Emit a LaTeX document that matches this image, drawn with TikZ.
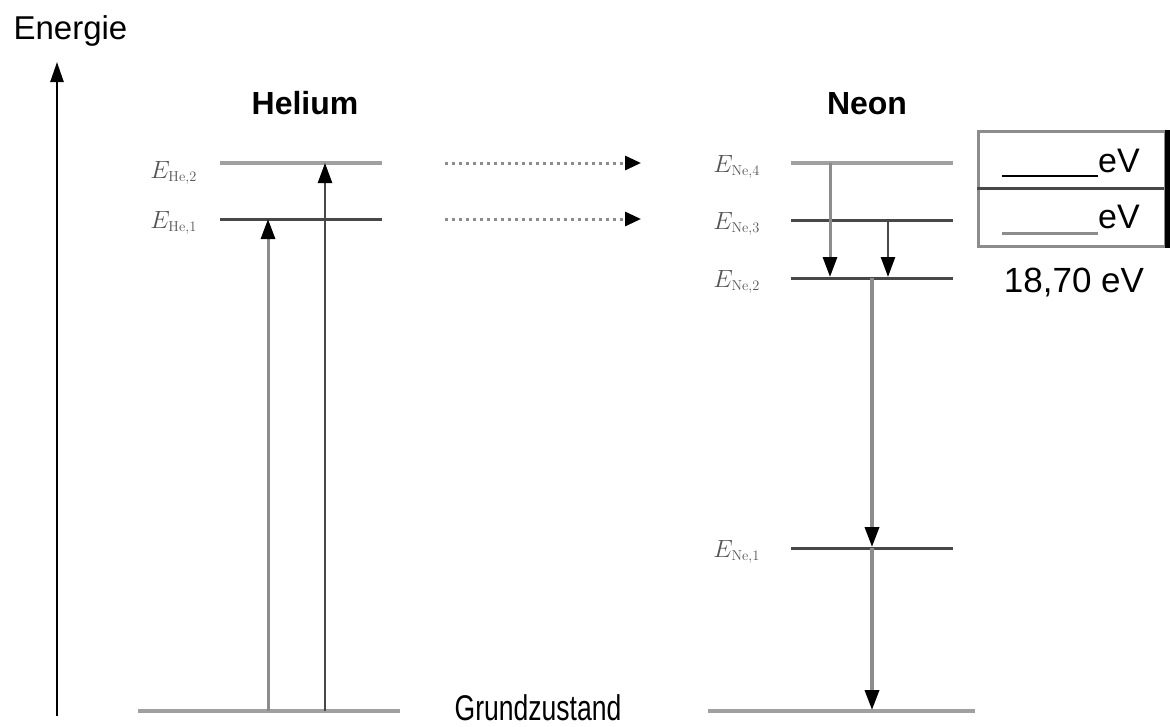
\documentclass[tikz,border=0pt]{standalone}
\usepackage[no-math]{fontspec}
\setmainfont{Liberation Sans}
\usetikzlibrary{arrows.meta}
\definecolor{lgray}{HTML}{A0A0A0}
\definecolor{mgray}{HTML}{8C8C8C}
\definecolor{dgray}{HTML}{484848}
\definecolor{lblgray}{HTML}{555555}
\begin{document}
\begin{tikzpicture}[x=1pt,y=-1pt,
  lvlL/.style={draw=lgray,line width=4pt},
  lvlD/.style={draw=dgray,line width=3pt},
  tip/.style={-{Triangle[length=20pt,width=14pt,color=black]}},
  arrL/.style={tip,draw=mgray,line width=3pt},
  arrD/.style={tip,draw=dgray,line width=2.5pt},
  dotarr/.style={-{Triangle[length=16pt,width=14pt,color=black]},draw=mgray,line width=3pt,dash pattern=on 3pt off 4pt},
  elabel/.style={anchor=base east,inner sep=0pt,text=lblgray,font=\fontsize{30}{34}\selectfont},
  big/.style={inner sep=0pt,font=\fontsize{33}{38}\selectfont},
  head/.style={inner sep=0pt,font=\fontsize{32}{38}\selectfont\bfseries}
]
\useasboundingbox (0,0) rectangle (1170,726);
\fill[white] (0,0) rectangle (1170,726);

% energy axis
\node[big,anchor=base] (energie) at (70.5,39) {Energie};
\coordinate (axB) at (57,716);
\coordinate (axT) at (57,62);
\draw[-{Triangle[length=20pt,width=13pt]},line width=2.5pt] (axB) -- (axT);

% titles
\node[head,anchor=base] (helium) at (305,114) {Helium};
\node[head,anchor=base] (neon) at (867,114) {Neon};

% helium levels
\coordinate (he2L) at (220,163); \coordinate (he2R) at (382,163);
\coordinate (he1L) at (220,219); \coordinate (he1R) at (382,219);
\draw[lvlL] (he2L) -- (he2R);
\draw[lvlD] (he1L) -- (he1R);
\node[elabel] (lhe2) at (197,178) {$E_{\scriptscriptstyle\mathrm{He},2}$};
\node[elabel] (lhe1) at (197,228) {$E_{\scriptscriptstyle\mathrm{He},1}$};

% ground states
\coordinate (gHL) at (138,711); \coordinate (gHR) at (400,711);
\coordinate (gNL) at (708,711); \coordinate (gNR) at (975,711);
\draw[lvlL] (gHL) -- (gHR);
\draw[lvlL] (gNL) -- (gNR);
\node[inner sep=0pt,anchor=base,font=\fontsize{34}{38}\selectfont] (grund) at (538,720) {\scalebox{0.78}[1.05]{Grundzustand}};

% helium excitation arrows
\coordinate (a1s) at (268,711); \coordinate (a1e) at (268,219);
\coordinate (a2s) at (325,711); \coordinate (a2e) at (325,163);
\draw[arrL] (a1s) -- (a1e);
\draw[arrD] (a2s) -- (a2e);

% neon levels
\coordinate (ne4L) at (791,163); \coordinate (ne4R) at (953,163);
\coordinate (ne3L) at (791,220); \coordinate (ne3R) at (953,220);
\coordinate (ne2L) at (791,278); \coordinate (ne2R) at (953,278);
\coordinate (ne1L) at (791,548); \coordinate (ne1R) at (953,548);
\draw[lvlL] (ne4L) -- (ne4R);
\draw[lvlD] (ne3L) -- (ne3R);
\draw[lvlD] (ne2L) -- (ne2R);
\draw[lvlD] (ne1L) -- (ne1R);
\node[elabel] (lne4) at (760,172) {$E_{\scriptscriptstyle\mathrm{Ne},4}$};
\node[elabel] (lne3) at (760,229) {$E_{\scriptscriptstyle\mathrm{Ne},3}$};
\node[elabel] (lne2) at (760,287) {$E_{\scriptscriptstyle\mathrm{Ne},2}$};
\node[elabel] (lne1) at (760,557) {$E_{\scriptscriptstyle\mathrm{Ne},1}$};

% transfer arrows
\coordinate (d1s) at (445,163); \coordinate (d1e) at (641,163);
\coordinate (d2s) at (445,219); \coordinate (d2e) at (641,219);
\draw[dotarr] (d1s) -- (d1e);
\draw[dotarr] (d2s) -- (d2e);

% neon transitions
\coordinate (n1s) at (830,163); \coordinate (n1e) at (830,277);
\coordinate (n2s) at (888,220); \coordinate (n2e) at (888,277);
\coordinate (n3s) at (872,278); \coordinate (n3e) at (872,547);
\coordinate (n4s) at (872,548); \coordinate (n4e) at (872,710);
\draw[arrL] (n1s) -- (n1e);
\draw[arrD] (n2s) -- (n2e);
\draw[arrL,line width=3.5pt] (n3s) -- (n3e);
\draw[arrL,line width=3.5pt] (n4s) -- (n4e);

% answer box
\node[draw=mgray,line width=3pt,minimum width=187pt,minimum height=115pt,inner sep=0pt,anchor=north west] (box) at (977,130) {};
\coordinate (midL) at (977,188); \coordinate (midR) at (1164,188);
\draw[dgray,line width=3pt] (midL) -- (midR);
\draw[black,line width=5pt] (box.north east) -- (box.south east);
\node[big,anchor=base west,font=\fontsize{34}{38}\selectfont] (ev1) at (1098,172) {eV};
\node[big,anchor=base west,font=\fontsize{34}{38}\selectfont] (ev2) at (1098,228) {eV};
\coordinate (u1a) at (1002,176); \coordinate (u1b) at (1098,176);
\coordinate (u2a) at (1002,233); \coordinate (u2b) at (1098,233);
\draw[black,line width=2.5pt] (u1a) -- (u1b);
\draw[mgray,line width=3pt] (u2a) -- (u2b);
\node[big,anchor=base,font=\fontsize{35}{40}\selectfont] (val) at (1074,292) {18,70 eV};
\end{tikzpicture}
\end{document}
